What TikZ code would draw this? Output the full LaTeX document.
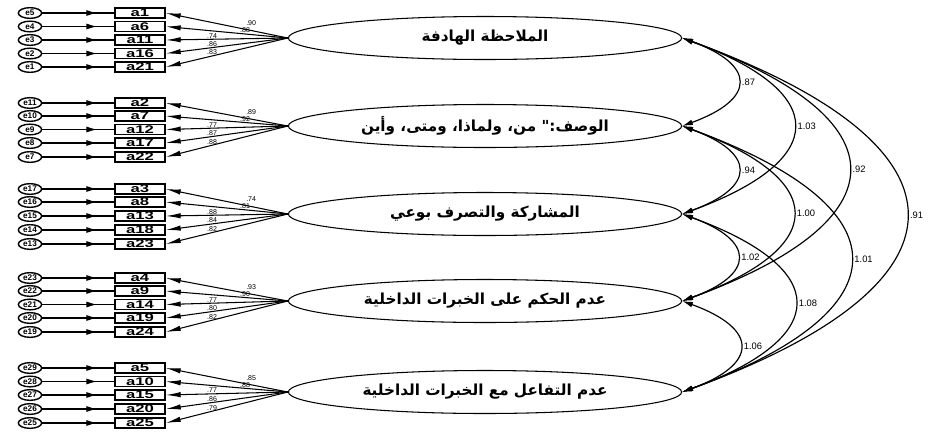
\documentclass[tikz,border=0pt]{standalone}
\usepackage{fontspec}
\setmainfont{Liberation Sans}
\newfontfamily\arabicfont[Script=Arabic]{DejaVu Sans}
\TeXXeTstate=1
\usetikzlibrary{arrows.meta,shapes.geometric,decorations.markings}

\begin{document}
\begin{tikzpicture}[x=0.03cm, y=-0.03cm, every node/.style={font=\fontsize{8}{9}\selectfont},
    factor/.style={draw, ellipse, line width=0.9pt, minimum width=11.8cm, minimum height=1.29cm, inner sep=0pt, font=\arabicfont\bfseries\fontsize{13}{13}\selectfont},
    item/.style={draw, line width=1.2pt, minimum width=1.5cm, minimum height=0.3cm, inner sep=0pt, font=\bfseries\fontsize{9.5}{9.5}\selectfont},
    errnode/.style={draw, ellipse, line width=1.2pt, minimum width=0.7cm, minimum height=0.32cm, inner sep=0pt, font=\bfseries\fontsize{7}{7}\selectfont},
    errline/.style={line width=0.9pt, postaction={decorate}, decoration={markings, mark=at position 0.76 with {\arrow{Latex[length=3.2mm,width=1.8mm]}}}},
    load/.style={line width=0.9pt, -{Latex[length=4.5mm,width=1.6mm]}},
    loadlbl/.style={font=\fontsize{6}{6}\selectfont, inner sep=0.5pt, above},
    cov/.style={line width=1pt, {Latex[length=3.2mm,width=1.7mm]}-{Latex[length=3.2mm,width=1.7mm]}, looseness=2.3},
    covlbl/.style={font=\fontsize{8}{8}\selectfont, right=2pt, inner sep=1pt}]
  \useasboundingbox (0,0) rectangle (940,437);

  % latent factors
  \node[factor] (f1) at (485,38)  {\beginR الملاحظة الهادفة\endR};
  \node[factor] (f2) at (485,126) {\beginR الوصف:" من، ولماذا، ومتى، وأين\endR};
  \node[factor] (f3) at (485,214) {\beginR المشاركة والتصرف بوعي\endR};
  \node[factor] (f4) at (485,301) {\beginR عدم الحكم على الخبرات الداخلية\endR};
  \node[factor] (f5) at (485,392) {\beginR عدم التفاعل مع الخبرات الداخلية\endR};

  % items, errors and loadings
  \foreach \num/\g/\y/\e/\lv/\p/\s in {
      1/1/13/5/.90/.3/3, 6/1/26.5/4/.88/.35/0, 11/1/40/3/.74/.62/0, 16/1/53.5/2/.86/.62/0, 21/1/67/1/.83/.62/0,
      2/2/103/11/.89/.3/3, 7/2/116/10/.92/.35/0, 12/2/129.5/9/.77/.62/0, 17/2/143/8/.87/.62/0, 22/2/157/7/.88/.62/0,
      3/3/189/17/.74/.3/3, 8/3/202/16/.81/.35/0, 13/3/216/15/.88/.62/0, 18/3/230/14/.84/.62/0, 23/3/244/13/.82/.62/0,
      4/4/278/23/.93/.3/3, 9/4/291/22/.90/.35/0, 14/4/304.5/21/.77/.62/0, 19/4/318/20/.80/.62/0, 24/4/332/19/.82/.62/0,
      5/5/368/29/.85/.3/3, 10/5/381.5/28/.88/.35/0, 15/5/395/27/.77/.62/0, 20/5/409/26/.86/.62/0, 25/5/423/25/.79/.62/0}
  {
    \node[item] (a\num) at (140,\y) {\scalebox{1.5}[1]{a\num}};
    \node[errnode] (e\e) at (30,\y) {e\e};
    \draw[errline] (e\e) -- (a\num);
    \draw[load] (f\g.west) -- (a\num.east) node[loadlbl, pos=\p, yshift=\s pt] (l\num) {\lv};
  }

  % covariances
  \foreach \i/\j/\v in {1/2/.87, 1/3/1.03, 1/4/.92, 1/5/.91, 2/3/.94, 2/4/1.00, 2/5/1.01, 3/4/1.02, 3/5/1.08, 4/5/1.06}
    \draw[cov] (f\i.east) to[out=-20, in=20] node[covlbl] (c\i\j) {\v} (f\j.east);
\end{tikzpicture}
\end{document}
